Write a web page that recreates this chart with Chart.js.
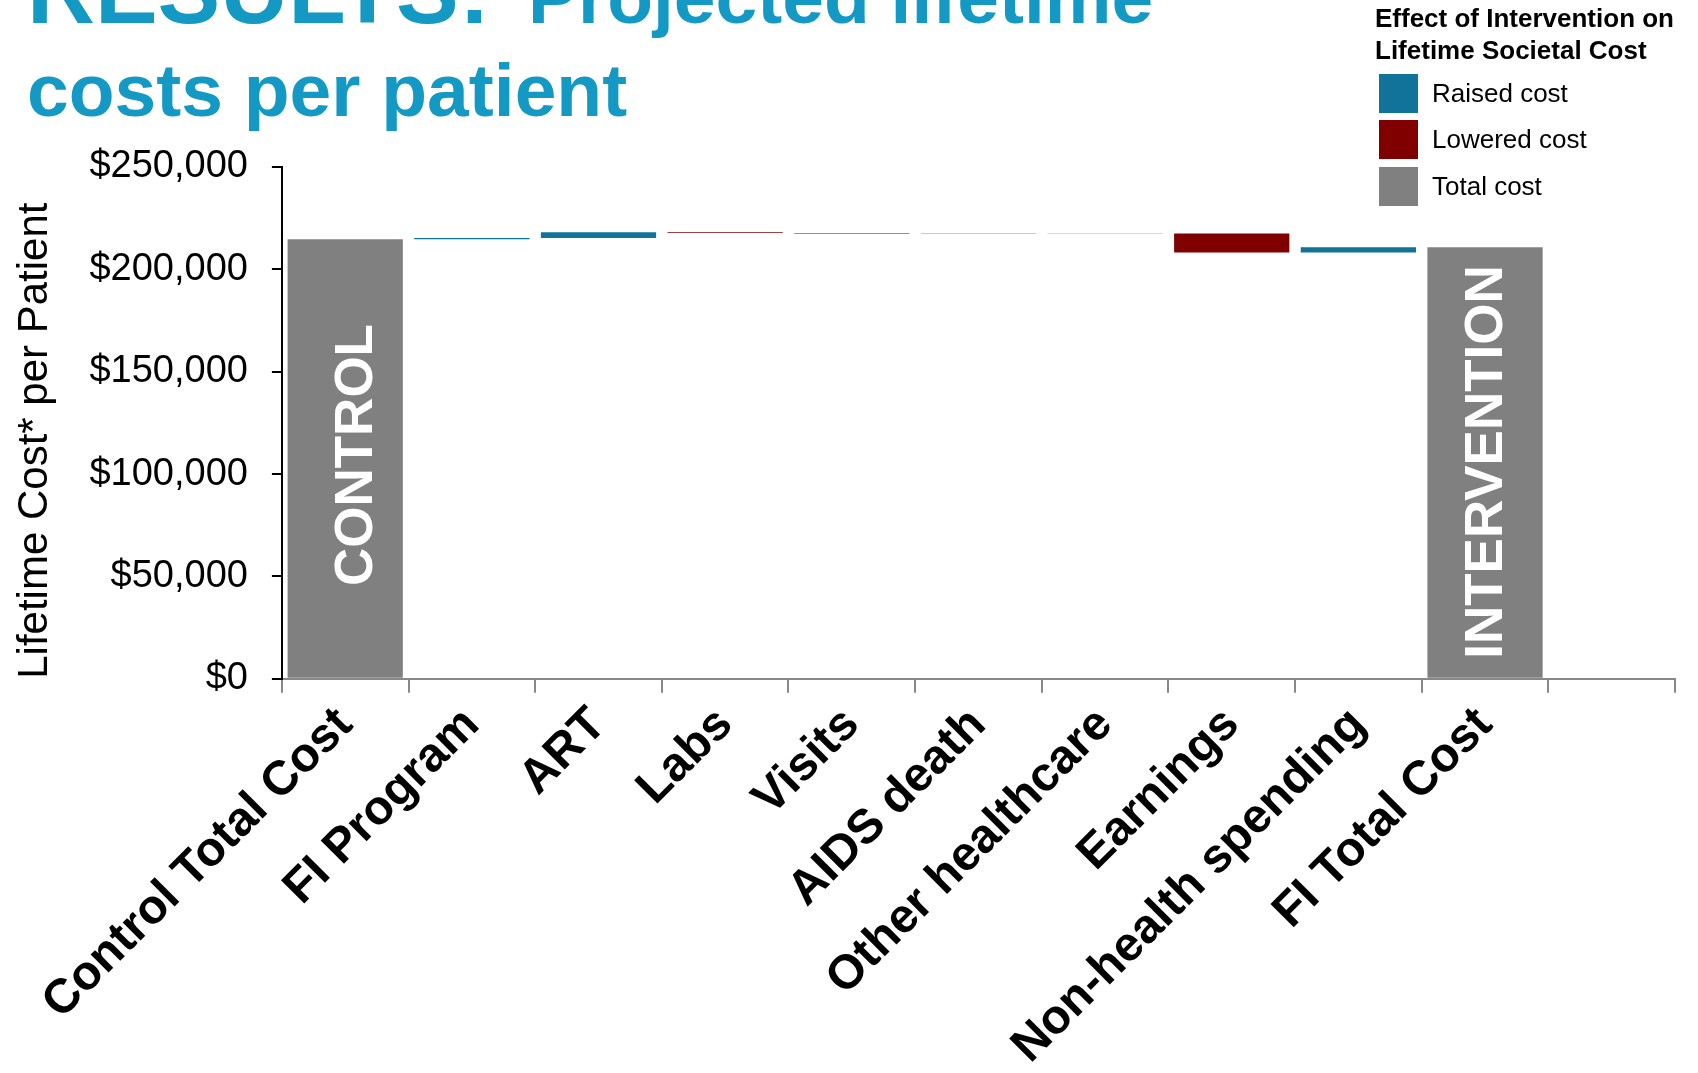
<!DOCTYPE html>
<html>
<head>
<meta charset="utf-8">
<script src="https://cdn.jsdelivr.net/npm/chart.js@4.4.1/dist/chart.umd.min.js"></script>
<style>
    body { margin: 0; background: #fff; font-family: "Liberation Sans", Arial, sans-serif; }
    #wrap { position: relative; width: 1698px; height: 1073px; overflow: hidden; }
    #myChart { position: absolute; left: 0; top: 0; }
    .title { position: absolute; color: #1399c4; font-weight: bold; white-space: nowrap; line-height: 1; }
    #legendTitle { position: absolute; left: 1375px; top: 2px; font-size: 26px; font-weight: bold; line-height: 32px; color: #000; }
    .legItem { position: absolute; left: 1379px; height: 39px; }
    .legItem .box { position: absolute; left: 0; top: 0; width: 39px; height: 39px; }
    .legItem .txt { position: absolute; left: 53px; top: 0; font-size: 26px; line-height: 39px; color: #000; white-space: nowrap; }
</style>
</head>
<body>
<div id="wrap">
    <canvas id="myChart" width="1698" height="1073"></canvas>
    <div class="title" style="left:27px; top:-56px; font-size:94px;">RESULTS:</div>
    <div class="title" style="left:528px; top:-40px; font-size:75px;">Projected lifetime</div>
    <div class="title" style="left:27px; top:53px; font-size:75px;">costs per patient</div>
    <div id="legendTitle">Effect of Intervention on<br>Lifetime Societal Cost</div>
    <div id="legend"></div>
</div>
<script>
const categories = ['Control Total Cost', 'FI Program', 'ART', 'Labs', 'Visits', 'AIDS death',
    'Other healthcare', 'Earnings', 'Non-health spending', 'FI Total Cost', ''];
// control total, then the change of each cost item, then the intervention total
const controlTotal = 214700;
const changes = [null, 600, 2800, -300, -250, -150, 100, -9300, 2600, null, null];
const interventionTotal = 210800;
const yTicks = [0, 50000, 100000, 150000, 200000, 250000];

const legendLabels = ['Raised cost', 'Lowered cost', 'Total cost'];
const raisedColor = '#12739a';
const loweredColor = '#800000';
const totalColor = '#808080';
const legendColors = [raisedColor, loweredColor, totalColor];

// build waterfall floating bars
const bars = [];
const colors = [];
let running = controlTotal;
for (let i = 0; i < categories.length; i++) {
    if (i === 0) {
        bars.push([0, controlTotal]);
        colors.push(totalColor);
    } else if (categories[i] === 'FI Total Cost') {
        bars.push([0, interventionTotal]);
        colors.push(totalColor);
    } else if (changes[i] !== null) {
        bars.push([running, running + changes[i]]);
        colors.push(changes[i] >= 0 ? raisedColor : loweredColor);
        running += changes[i];
    } else {
        bars.push(null);
        colors.push(totalColor);
    }
}

// html legend
const legend = document.getElementById('legend');
const legendTops = [74, 120, 167];
legendLabels.forEach(function (name, i) {
    const item = document.createElement('div');
    item.className = 'legItem';
    item.style.top = legendTops[i] + 'px';
    item.innerHTML = '<div class="box" style="background:' + legendColors[i] + '"></div><div class="txt">' + name + '</div>';
    legend.appendChild(item);
});

// white vertical words inside the two total bars
const barWords = {
    id: 'barWords',
    afterDatasetsDraw(chart) {
        const ctx = chart.ctx;
        const meta = chart.getDatasetMeta(0);
        const y = chart.scales.y;
        const words = [
            { index: 0, text: 'CONTROL', at: 109300, dx: 12 },
            { index: 9, text: 'INTERVENTION', at: 105900, dx: 2 }
        ];
        ctx.save();
        ctx.fillStyle = '#fff';
        ctx.font = 'bold 53px "Liberation Sans", Arial, sans-serif';
        ctx.textAlign = 'center';
        ctx.textBaseline = 'middle';
        words.forEach(function (w) {
            const bar = meta.data[w.index];
            ctx.save();
            ctx.translate(bar.x + w.dx, y.getPixelForValue(w.at));
            ctx.rotate(-Math.PI / 2);
            ctx.fillText(w.text, 0, 0);
            ctx.restore();
        });
        ctx.restore();
    }
};

var ctx = document.getElementById('myChart').getContext('2d');
var chart = new Chart(ctx, {
    type: 'bar',
    data: {
        labels: categories,
        datasets: [{
            data: bars,
            backgroundColor: colors,
            borderWidth: 0,
            barPercentage: 0.91,
            categoryPercentage: 1
        }]
    },
    options: {
        responsive: false,
        animation: false,
        layout: { padding: { top: 167, right: 23, left: 0, bottom: -6 } },
        plugins: {
            legend: { display: false },
            tooltip: { enabled: false }
        },
        scales: {
            x: {
                grid: { drawOnChartArea: false, offset: true, tickLength: 14, color: '#888', lineWidth: 2 },
                border: { color: '#888', width: 2 },
                ticks: {
                    autoSkip: false, maxRotation: 45, minRotation: 45, color: '#000', padding: 4,
                    font: { family: '"Liberation Sans", Arial, sans-serif', size: 48, weight: 'bold' }
                }
            },
            y: {
                min: 0,
                max: 250000,
                afterBuildTicks(scale) { scale.ticks = yTicks.map(v => ({ value: v })); },
                grid: { drawOnChartArea: false, tickLength: 10, color: '#000', lineWidth: 2 },
                border: { color: '#000', width: 2 },
                ticks: {
                    color: '#000', padding: 24,
                    font: { family: '"Liberation Sans", Arial, sans-serif', size: 38 },
                    callback: v => '$' + v.toLocaleString('en-US')
                },
                title: {
                    display: true, text: 'Lifetime Cost* per Patient', color: '#000', align: 'start',
                    font: { family: '"Liberation Sans", Arial, sans-serif', size: 42 },
                    padding: { top: 10, bottom: 5 }
                }
            }
        }
    },
    plugins: [barWords]
});
</script>
</body>
</html>
